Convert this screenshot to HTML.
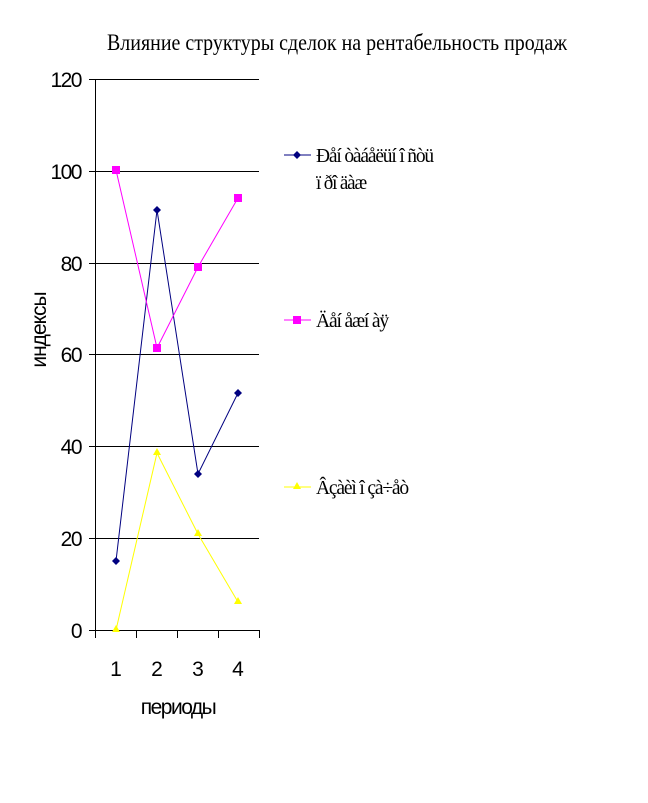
<!DOCTYPE html>
<html><head><meta charset="utf-8"><style>body{margin:0;background:#fff}svg{display:block}</style></head><body>
<svg width="648" height="803" xmlns="http://www.w3.org/2000/svg">
<rect width="648" height="803" fill="#fff"/>
<text x="107" y="50" font-family="Liberation Serif, serif" font-size="23" textLength="460" lengthAdjust="spacingAndGlyphs">Влияние структуры сделок на рентабельность продаж</text>
<g stroke="#000" stroke-width="1">
<line x1="89" y1="79.5" x2="259" y2="79.5"/>
<line x1="89" y1="171.5" x2="259" y2="171.5"/>
<line x1="89" y1="263.5" x2="259" y2="263.5"/>
<line x1="89" y1="354.5" x2="259" y2="354.5"/>
<line x1="89" y1="446.5" x2="259" y2="446.5"/>
<line x1="89" y1="538.5" x2="259" y2="538.5"/>
<line x1="89" y1="630.5" x2="259" y2="630.5"/>
<line x1="95.5" y1="79" x2="95.5" y2="638"/>
<line x1="136.5" y1="630" x2="136.5" y2="638"/>
<line x1="177.5" y1="630" x2="177.5" y2="638"/>
<line x1="218.5" y1="630" x2="218.5" y2="638"/>
<line x1="259.5" y1="630" x2="259.5" y2="638"/>
</g>
<g font-family="Liberation Sans, sans-serif" font-size="21" text-anchor="end" letter-spacing="-1.5">
<text x="81" y="87">120</text><text x="81" y="179">100</text><text x="81" y="271">80</text>
<text x="81" y="362">60</text><text x="81" y="454">40</text><text x="81" y="546">20</text><text x="81" y="638">0</text>
</g>
<g font-family="Liberation Sans, sans-serif" font-size="21" text-anchor="middle">
<text x="116" y="676">1</text><text x="157" y="676">2</text><text x="198" y="676">3</text><text x="238" y="676">4</text>
<text x="178" y="714" letter-spacing="-1.5">периоды</text>
<text transform="translate(46,330) rotate(-90)" letter-spacing="-1">индексы</text>
</g>
<polyline points="116,561 157,210 198,474 238,393" fill="none" stroke="#000080" stroke-width="1"/>
<g fill="#000080"><path d="M116,557 l4,4 -4,4 -4,-4z"/><path d="M157,206 l4,4 -4,4 -4,-4z"/><path d="M198,470 l4,4 -4,4 -4,-4z"/><path d="M238,389 l4,4 -4,4 -4,-4z"/></g>
<polyline points="116,170 157,348 198,267 238,198" fill="none" stroke="#ff00ff" stroke-width="1"/>
<g fill="#ff00ff"><rect x="112" y="166" width="8" height="8"/><rect x="153" y="344" width="8" height="8"/><rect x="194" y="263" width="8" height="8"/><rect x="234" y="194" width="8" height="8"/></g>
<polyline points="116,630 157,453 198,534 238,602" fill="none" stroke="#ffff00" stroke-width="1"/>
<g fill="#ffff00"><path d="M116,625 l4,7 h-8z"/><path d="M157,448 l4,7 h-8z"/><path d="M198,529 l4,7 h-8z"/><path d="M238,597 l4,7 h-8z"/></g>
<line x1="284" y1="155" x2="311" y2="155" stroke="#000080"/><path d="M297,151 l4,4 -4,4 -4,-4z" fill="#000080"/>
<line x1="284" y1="320" x2="311" y2="320" stroke="#ff00ff"/><rect x="293" y="316" width="8" height="8" fill="#ff00ff"/>
<line x1="284" y1="487" x2="311" y2="487" stroke="#ffff00"/><path d="M297,482 l4,7 h-8z" fill="#ffff00"/>
<g font-family="Liberation Serif, serif" font-size="20" letter-spacing="-1.2">
<text x="316" y="162" textLength="117" lengthAdjust="spacingAndGlyphs">Ðåí òàáåëüí î ñòü</text>
<text x="316" y="189" textLength="50" lengthAdjust="spacingAndGlyphs">ï ðî äàæ</text>
<text x="316" y="327" textLength="72" lengthAdjust="spacingAndGlyphs">Äåí åæí àÿ</text>
<text x="316" y="494" textLength="92" lengthAdjust="spacingAndGlyphs">Âçàèì î çà÷åò</text>
</g>
</svg>
</body></html>
